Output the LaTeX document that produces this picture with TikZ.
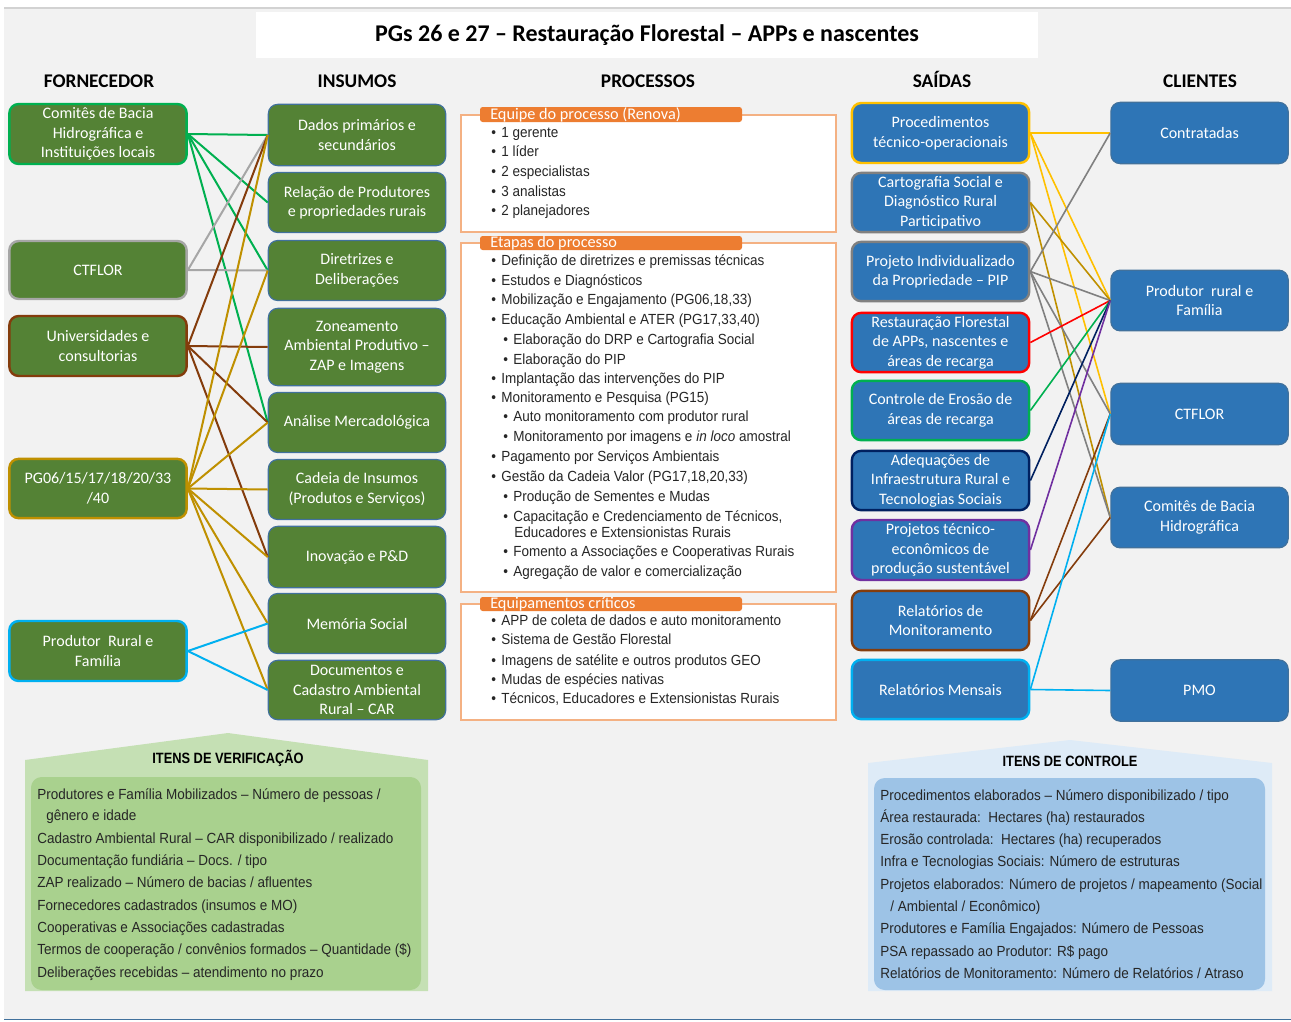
\documentclass[tikz,border=0pt]{standalone}
\usepackage{fontspec}
\setmainfont{Carlito}
\newfontfamily\narrowsans[FakeStretch=0.92]{Liberation Sans}
\newfontfamily\narrowbold[FakeStretch=0.86]{Liberation Sans}
\definecolor{bgc}{HTML}{F2F2F2}
\definecolor{fgreen}{HTML}{548235}
\definecolor{sblue}{HTML}{2E75B6}
\definecolor{edgeblue}{HTML}{41719C}
\definecolor{cgreen}{HTML}{00B050}
\definecolor{cgrayL}{HTML}{A6A6A6}
\definecolor{cgrayD}{HTML}{808080}
\definecolor{cbrown}{HTML}{843C0C}
\definecolor{cgold}{HTML}{BF9000}
\definecolor{ccyan}{HTML}{00B0F0}
\definecolor{cyellow}{HTML}{FFC000}
\definecolor{cred}{HTML}{FF0000}
\definecolor{cnavy}{HTML}{002060}
\definecolor{cpurple}{HTML}{7030A0}
\definecolor{tabor}{HTML}{ED7D31}
\definecolor{lineor}{HTML}{F4B183}
\definecolor{vouter}{HTML}{C5E0B4}
\definecolor{vinner}{HTML}{A9D18E}
\definecolor{couter}{HTML}{DEEBF7}
\definecolor{cinner}{HTML}{9DC3E6}
\definecolor{txtdark}{HTML}{262626}

% list line: name, x, y, text
\newcommand\bulletline[4]{\node[listtxt] (#1) at (#2,#3) {\makebox[7.5pt][l]{•}#4};}
\newcommand\textline[4]{\node[listtxt] (#1) at (#2,#3) {#4};}

\begin{document}
\begin{tikzpicture}[x=0.75pt,y=-0.75pt,
  boxbase/.style={rounded corners=7pt, align=center, text=white,
    font=\fontsize{12}{14.6}\selectfont, inner sep=1pt, minimum width=133pt},
  fbox/.style={boxbase, fill=fgreen, line width=1.8pt},
  ibox/.style={boxbase, fill=fgreen, draw=edgeblue, line width=0.9pt},
  sbox/.style={boxbase, fill=sblue, line width=1.8pt},
  cbox/.style={boxbase, fill=sblue, draw=edgeblue, line width=0.9pt},
  colhead/.style={anchor=base, font=\bfseries\fontsize{14.5}{16}\selectfont, text=black},
  lkL/.style={line width=1.5pt},
  lkR/.style={line width=1.2pt},
  tabtxt/.style={anchor=west, inner sep=0pt, text=white, font=\fontsize{12.2}{13}\selectfont},
  listtxt/.style={anchor=mid west, inner sep=0pt, text=txtdark, font=\narrowsans\fontsize{11}{13}\selectfont},
  itemtitle/.style={text=black, font=\narrowbold\bfseries\fontsize{11.2}{13}\selectfont},
  pbox/.style={draw=lineor, line width=1.1pt, fill=white}
]
\useasboundingbox (0,0) rectangle (1291,1021);
% page background
\fill[white] (0,0) rectangle (1291,1021);
\fill[bgc] (4,8) rectangle (1291,1019);
\draw[gray!35, line width=1.5pt] (4,8) -- (1291,8);
\draw[edgeblue, line width=0.8pt] (4,1019.5) -- (1291,1019.5);

% title
\node[fill=white, minimum width=586.5pt, minimum height=34.5pt, inner sep=0pt,
      font=\bfseries\fontsize{18}{20}\selectfont] (title) at (647,35)
  {PGs 26 e 27 – Restauração Florestal – APPs e nascentes};

% column headings
\node[colhead] (hF) at (99,87) {FORNECEDOR};
\node[colhead] (hI) at (357,87) {INSUMOS};
\node[colhead] (hP) at (648,87) {PROCESSOS};
\node[colhead] (hS) at (942,87) {SAÍDAS};
\node[colhead] (hC) at (1200,87) {CLIENTES};

% suppliers
\node[fbox, draw=cgreen, minimum height=45pt] (F1) at (98,134) {Comitês de Bacia\\Hidrográfica e\\Instituições locais};
\node[fbox, draw=cgrayL, minimum height=43.5pt] (F2) at (98,270) {CTFLOR};
\node[fbox, draw=cbrown, minimum height=45pt] (F3) at (98,346) {Universidades e\\consultorias};
\node[fbox, draw=cgold, minimum height=44.5pt] (F4) at (98,488.5) {PG06/15/17/18/20/33\\/40};
\node[fbox, draw=ccyan, minimum height=45pt] (F5) at (98,651) {Produtor\ \ Rural e\\Família};

% inputs
\node[ibox, minimum height=46pt] (I1) at (357,135) {Dados primários e\\secundários};
\node[ibox, minimum height=45pt] (I2) at (357,202.5) {Relação de Produtores\\e propriedades rurais};
\node[ibox, minimum height=45pt] (I3) at (357,270.5) {Diretrizes e\\Deliberações};
\node[ibox, minimum height=58pt] (I4) at (357,347) {Zoneamento\\Ambiental Produtivo –\\ZAP e Imagens};
\node[ibox, minimum height=45pt] (I5) at (357,422.5) {Análise Mercadológica};
\node[ibox, minimum height=45pt] (I6) at (357,489.5) {Cadeia de Insumos\\(Produtos e Serviços)};
\node[ibox, minimum height=46pt] (I7) at (357,557) {Inovação e P\&D};
\node[ibox, minimum height=45pt] (I8) at (357,623.5) {Memória Social};
\node[ibox, minimum height=44.5pt] (I9) at (357,690) {Documentos e\\Cadastro Ambiental\\Rural – CAR};

% outputs
\node[sbox, draw=cyellow, minimum height=45pt] (S1) at (940.5,133) {Procedimentos\\técnico-operacionais};
\node[sbox, draw=cgrayD, minimum height=44.5pt] (S2) at (940.5,202.5) {Cartografia Social e\\Diagnóstico Rural\\Participativo};
\node[sbox, draw=cgrayD, minimum height=44.5pt] (S3) at (940.5,271.5) {Projeto Individualizado\\da Propriedade – PIP};
\node[sbox, draw=cred, minimum height=44.5pt] (S4) at (940.5,342.5) {Restauração Florestal\\de APPs, nascentes e\\áreas de recarga};
\node[sbox, draw=cgreen, minimum height=44.5pt] (S5) at (940.5,410.5) {Controle de Erosão de\\áreas de recarga};
\node[sbox, draw=cnavy, minimum height=44.5pt] (S6) at (940.5,480.5) {Adequações de\\Infraestrutura Rural e\\Tecnologias Sociais};
\node[sbox, draw=cpurple, minimum height=45pt] (S7) at (940.5,550) {Projetos técnico-\\econômicos de\\produção sustentável};
\node[sbox, draw=cbrown, minimum height=44.5pt] (S8) at (940.5,620.5) {Relatórios de\\Monitoramento};
\node[sbox, draw=ccyan, minimum height=44.5pt] (S9) at (940.5,689.5) {Relatórios Mensais};

% clients
\node[cbox, minimum height=46pt] (C1) at (1199.5,133) {Contratadas};
\node[cbox, minimum height=45.5pt] (C2) at (1199.5,300.5) {Produtor\ \ rural e\\Família};
\node[cbox, minimum height=46pt] (C3) at (1199.5,414) {CTFLOR};
\node[cbox, minimum height=45.5pt] (C4) at (1199.5,517.5) {Comitês de Bacia\\Hidrográfica};
\node[cbox, minimum height=46pt] (C5) at (1199.5,690.5) {PMO};

% supplier -> input links
\draw[lkL, cgreen] (F1.east) -- (I1.west);
\draw[lkL, cgreen] (F1.east) -- (I2.west);
\draw[lkL, cgreen] (F1.east) -- (I3.west);
\draw[lkL, cgreen] (F1.east) -- (I5.west);
\draw[lkL, cgrayL] (F2.east) -- (I1.west);
\draw[lkL, cgrayL] (F2.east) -- (I3.west);
\draw[lkL, cbrown] (F3.east) -- (I1.west);
\draw[lkL, cbrown] (F3.east) -- (I4.west);
\draw[lkL, cbrown] (F3.east) -- (I5.west);
\draw[lkL, cbrown] (F3.east) -- (I7.west);
\draw[lkL, cgold] (F4.east) -- (I1.west);
\draw[lkL, cgold] (F4.east) -- (I3.west);
\draw[lkL, cgold] (F4.east) -- (I5.west);
\draw[lkL, cgold] (F4.east) -- (I6.west);
\draw[lkL, cgold] (F4.east) -- (I7.west);
\draw[lkL, cgold] (F4.east) -- (I8.west);
\draw[lkL, cgold] (F4.east) -- (I9.west);
\draw[lkL, ccyan] (F5.east) -- (I8.west);
\draw[lkL, ccyan] (F5.east) -- (I9.west);

% output -> client links
\draw[lkR, cyellow] (S1.east) -- (C1.west);
\draw[lkR, cyellow] (S1.east) -- (C2.west);
\draw[lkR, cyellow] (S1.east) -- (C3.west);
\draw[lkR, cgold] (S2.east) -- (C2.west);
\draw[lkR, cgold] (S2.east) -- (C4.west);
\draw[lkR, cgrayD] (S3.east) -- (C1.west);
\draw[lkR, cgrayD] (S3.east) -- (C2.west);
\draw[lkR, cgrayD] (S3.east) -- (C3.west);
\draw[lkR, cgrayD] (S3.east) -- (C4.west);
\draw[lkR, cred] (S4.east) -- (C2.west);
\draw[lkR, cgreen] (S5.east) -- (C2.west);
\draw[lkR, cnavy] (S6.east) -- (C2.west);
\draw[lkR, cpurple] (S7.east) -- (C2.west);
\draw[lkR, cbrown] (S8.east) -- (C3.west);
\draw[lkR, cbrown] (S8.east) -- (C4.west);
\draw[lkR, ccyan] (S9.east) -- (C3.west);
\draw[lkR, ccyan] (S9.east) -- (C5.west);

% process team
\draw[pbox] (461,115) rectangle (836,232);
\fill[tabor, rounded corners=2pt] (480,107) rectangle (742,122);
\node[tabtxt] (tabA) at (490,114.5) {Equipe do processo (Renova)};
\bulletline{pa1}{491}{134}{1 gerente}
\bulletline{pa2}{491}{153}{1 líder}
\bulletline{pa3}{491}{173}{2 especialistas}
\bulletline{pa4}{491}{193}{3 analistas}
\bulletline{pa5}{491}{212}{2 planejadores}

% process steps
\draw[pbox] (461,243) rectangle (836,592);
\fill[tabor, rounded corners=2pt] (480,236) rectangle (742,250);
\node[tabtxt] (tabB) at (490,243) {Etapas do processo};
\bulletline{pb1}{491}{262}{Definição de diretrizes e premissas técnicas}
\bulletline{pb2}{491}{282}{Estudos e Diagnósticos}
\bulletline{pb3}{491}{301}{Mobilização e Engajamento (PG06,18,33)}
\bulletline{pb4}{491}{321}{Educação Ambiental e ATER (PG17,33,40)}
\bulletline{pb5}{503}{341}{Elaboração do DRP e Cartografia Social}
\bulletline{pb6}{503}{361}{Elaboração do PIP}
\bulletline{pb7}{491}{380}{Implantação das intervenções do PIP}
\bulletline{pb8}{491}{399}{Monitoramento e Pesquisa (PG15)}
\bulletline{pb9}{503}{418}{Auto monitoramento com produtor rural}
\bulletline{pb10}{503}{438}{Monitoramento por imagens e \textit{in loco} amostral}
\bulletline{pb11}{491}{458}{Pagamento por Serviços Ambientais}
\bulletline{pb12}{491}{478}{Gestão da Cadeia Valor (PG17,18,20,33)}
\bulletline{pb13}{503}{498}{Produção de Sementes e Mudas}
\bulletline{pb14}{503}{518}{Capacitação e Credenciamento de Técnicos,}
\textline{pb15}{514}{534}{Educadores e Extensionistas Rurais}
\bulletline{pb16}{503}{553}{Fomento a Associações e Cooperativas Rurais}
\bulletline{pb17}{503}{573}{Agregação de valor e comercialização}

% critical equipment
\draw[pbox] (461,604) rectangle (836,720);
\fill[tabor, rounded corners=2pt] (480,597) rectangle (742,611);
\node[tabtxt] (tabC) at (490,604) {Equipamentos críticos};
\bulletline{pc1}{491}{622}{APP de coleta de dados e auto monitoramento}
\bulletline{pc2}{491}{641}{Sistema de Gestão Florestal}
\bulletline{pc3}{491}{662}{Imagens de satélite e outros produtos GEO}
\bulletline{pc4}{491}{681}{Mudas de espécies nativas}
\bulletline{pc5}{491}{700}{Técnicos, Educadores e Extensionistas Rurais}

% verification items
\fill[vouter] (25,760) -- (228,733) -- (428,760) -- (428,991) -- (25,991) -- cycle;
\fill[vinner, rounded corners=8pt] (31,777) rectangle (421,990);
\node[itemtitle] (vt) at (228,758) {ITENS DE VERIFICAÇÃO};
\textline{v1}{37}{796}{Produtores e Família Mobilizados – Número de pessoas /}
\textline{v2}{46}{817}{gênero e idade}
\textline{v3}{37}{840}{Cadastro Ambiental Rural – CAR disponibilizado / realizado}
\textline{v4}{37}{862}{Documentação fundiária – Docs. / tipo}
\textline{v5}{37}{884}{ZAP realizado – Número de bacias / afluentes}
\textline{v6}{37}{907}{Fornecedores cadastrados (insumos e MO)}
\textline{v7}{37}{929}{Cooperativas e Associações cadastradas}
\textline{v8}{37}{951}{Termos de cooperação / convênios formados – Quantidade (\$)}
\textline{v9}{37}{974}{Deliberações recebidas – atendimento no prazo}

% control items
\fill[couter] (868,763) -- (1070,740) -- (1272,763) -- (1272,991) -- (868,991) -- cycle;
\fill[cinner, rounded corners=8pt] (874,778) rectangle (1265,990);
\node[itemtitle] (kt) at (1070,761) {ITENS DE CONTROLE};
\textline{k1}{880}{797}{Procedimentos elaborados – Número disponibilizado / tipo}
\textline{k2}{880}{819}{Área restaurada:\ \ Hectares (ha) restaurados}
\textline{k3}{880}{841}{Erosão controlada:\ \ Hectares (ha) recuperados}
\textline{k4}{880}{863}{Infra e Tecnologias Sociais: Número de estruturas}
\textline{k5}{880}{886}{Projetos elaborados: Número de projetos / mapeamento (Social}
\textline{k6}{890}{908}{/ Ambiental / Econômico)}
\textline{k7}{880}{930}{Produtores e Família Engajados: Número de Pessoas}
\textline{k8}{880}{953}{PSA repassado ao Produtor: R\$ pago}
\textline{k9}{880}{975}{Relatórios de Monitoramento: Número de Relatórios / Atraso}
\end{tikzpicture}
\end{document}
